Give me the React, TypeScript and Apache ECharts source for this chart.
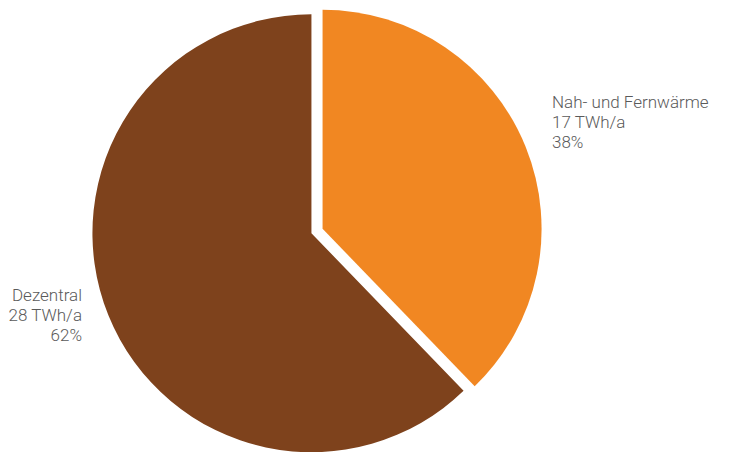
import React, { useEffect, useRef } from "react";
import * as echarts from "echarts";

const categories = ["Nah- und Fernwärme", "Dezentral"];
const values = [17, 28];
const unit = "TWh/a";
const colors = ["#F18722", "#7E421C"];

export default function App() {
  const ref = useRef<HTMLDivElement>(null);
  useEffect(() => {
    document.body.style.margin = "0";
    const chart = echarts.init(ref.current!, null, { renderer: "svg" });
    const total = values.reduce((a, b) => a + b, 0);
    const labelText = (i: number) =>
      `${categories[i]}\n${values[i]} ${unit}\n${Math.round((values[i] / total) * 100)}%`;
    const labelPos = [
      { x: 552, y: 92, align: "left" },
      { x: 82, y: 285, align: "right" },
    ];
    chart.setOption({
      animation: false,
      backgroundColor: "#ffffff",
      series: [
        {
          type: "pie",
          center: [317, 231],
          radius: 219,
          startAngle: 90,
          clockwise: true,
          selectedMode: "multiple",
          selectedOffset: 6,
          emphasis: { disabled: true },
          data: categories.map((name, i) => ({
            name,
            value: values[i],
            selected: true,
            itemStyle: { color: colors[i] },
          })),
          label: { show: false },
          labelLine: { show: false },
        },
      ],
      graphic: categories.map((_, i) => ({
        type: "text",
        x: labelPos[i].x,
        y: labelPos[i].y,
        style: {
          text: labelText(i),
          fill: "#5a5a5a",
          font: "300 17px Roboto",
          fontFamily: "Roboto",
          fontWeight: 300,
          fontSize: 17,
          lineHeight: 20,
          align: labelPos[i].align,
          verticalAlign: "top",
        },
      })),
    });
    return () => chart.dispose();
  }, []);
  return <div ref={ref} style={{ width: 735, height: 452 }} />;
}
